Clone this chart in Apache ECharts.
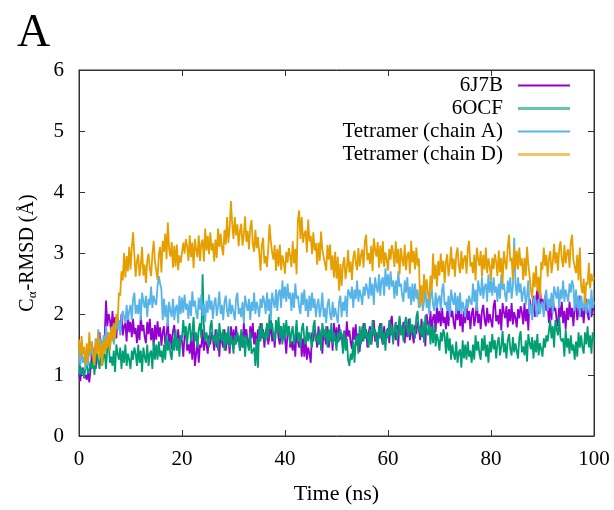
<!DOCTYPE html>
<html>
<head>
<meta charset="utf-8">
<script src="https://cdn.jsdelivr.net/npm/echarts@6/dist/echarts.min.js"></script>
<style>
  html, body { margin: 0; padding: 0; background: #fff; }
  #chart { width: 614px; height: 510px; }
</style>
</head>
<body>
<div id="chart"></div>
<script>
// sampling step of the trajectory (ns)
const step = 0.25

const seriesNames = ['6J7B', '6OCF', 'Tetramer (chain A)', 'Tetramer (chain D)']
const seriesColors = ['#9400d3', '#009e73', '#56b4e9', '#e69f00']

const xTicks = [0, 20, 40, 60, 80, 100]
const yTicks = [0, 1, 2, 3, 4, 5, 6]

// 6J7B, one row = 5 ns
const rmsd6J7B = [
  1.02, 0.90, 1.08, 1.12, 0.95, 1.0, 0.92, 1.05, 0.88, 1.10, 1.35, 1.25, 1.45, 1.10, 1.40, 1.40, 1.70, 1.35, 1.55, 1.45,
  1.65, 2.22, 1.80, 2.00, 1.90, 1.70, 2.05, 1.75, 1.95, 1.60, 1.95, 1.80, 1.70, 2.00, 1.65, 1.80, 1.85, 1.55, 2.00, 1.70,
  1.87, 1.62, 1.92, 1.67, 1.77, 1.52, 1.82, 1.57, 1.97, 1.72, 1.82, 1.62, 1.52, 1.87, 1.67, 1.92, 1.57, 1.77, 1.47, 1.82,
  1.58, 1.88, 1.63, 1.78, 1.48, 1.70, 1.80, 1.50, 1.65, 1.90, 1.52, 1.67, 1.42, 1.72, 1.82, 1.55, 1.45, 1.75, 1.50, 1.65,
  1.55, 1.30, 1.65, 1.75, 1.40, 1.50, 1.35, 1.60, 1.25, 1.70, 1.15, 1.35, 1.55, 1.20, 1.50, 1.45, 1.75, 1.40, 1.60, 1.50,
  1.35, 1.65, 1.50, 1.70, 1.60, 1.40, 1.75, 1.45, 1.65, 1.30, 1.70, 1.55, 1.45, 1.75, 1.40, 1.60, 1.65, 1.35, 1.80, 1.50,
  1.75, 1.50, 1.80, 1.55, 1.65, 1.40, 1.70, 1.45, 1.85, 1.60, 1.75, 1.55, 1.45, 1.80, 1.60, 1.85, 1.50, 1.70, 1.40, 1.75,
  1.55, 1.85, 1.60, 1.75, 1.45, 1.70, 1.80, 1.50, 1.65, 1.90, 1.55, 1.70, 1.45, 1.75, 1.85, 1.60, 1.50, 1.80, 1.55, 1.70,
  1.60, 1.35, 1.70, 1.80, 1.45, 1.55, 1.40, 1.65, 1.30, 1.75, 1.55, 1.45, 1.65, 1.30, 1.60, 1.30, 1.60, 1.25, 1.45, 1.35,
  1.20, 1.70, 1.55, 1.75, 1.65, 1.45, 1.80, 1.50, 1.70, 1.35, 1.75, 1.60, 1.50, 1.80, 1.45, 1.65, 1.70, 1.40, 1.85, 1.55,
  1.78, 1.53, 1.83, 1.58, 1.68, 1.43, 1.73, 1.48, 1.88, 1.63, 1.73, 1.53, 1.43, 1.78, 1.58, 1.83, 1.48, 1.68, 1.38, 1.73,
  1.55, 1.85, 1.60, 1.75, 1.45, 1.70, 1.80, 1.50, 1.65, 1.90, 1.55, 1.70, 1.45, 1.75, 1.85, 1.60, 1.50, 1.80, 1.55, 1.70,
  1.77, 1.52, 1.87, 1.97, 1.62, 1.72, 1.57, 1.82, 1.47, 1.92, 1.77, 1.67, 1.87, 1.52, 1.82, 1.62, 1.92, 1.57, 1.77, 1.67,
  1.52, 1.82, 1.67, 1.87, 1.77, 1.57, 1.92, 1.62, 1.82, 1.47, 2.00, 1.85, 1.75, 2.05, 1.70, 1.95, 2.00, 1.70, 2.15, 1.85,
  2.05, 1.80, 2.10, 1.85, 1.95, 1.75, 2.05, 1.80, 2.20, 1.95, 2.05, 1.85, 1.75, 2.10, 1.90, 2.15, 1.80, 2.00, 1.70, 2.05,
  1.85, 2.15, 1.90, 2.05, 1.75, 2.00, 2.10, 1.80, 1.95, 2.20, 1.85, 2.00, 1.75, 2.05, 2.15, 1.90, 1.80, 2.10, 1.85, 2.00,
  2.03, 1.78, 2.13, 2.23, 1.88, 1.98, 1.83, 2.08, 1.73, 2.18, 2.03, 1.93, 2.13, 1.78, 2.08, 1.88, 2.18, 1.83, 2.03, 1.93,
  1.78, 2.08, 1.93, 2.13, 2.03, 1.83, 2.18, 1.88, 2.08, 1.73, 2.25, 2.10, 2.00, 2.30, 1.95, 2.25, 2.40, 2.00, 2.45, 2.15,
  2.25, 2.00, 2.30, 2.05, 2.15, 1.85, 2.15, 1.90, 2.30, 2.05, 2.10, 1.90, 1.80, 2.15, 1.95, 2.20, 1.85, 2.05, 1.75, 2.10,
  1.90, 2.20, 1.95, 2.10, 1.80, 2.10, 2.20, 1.90, 2.05, 2.30, 1.95, 2.10, 1.85, 2.15, 2.25, 2.00, 1.90, 2.20, 1.95, 2.10,
  2.05
]

// 6OCF
const rmsd6OCF = [
  1.00, 1.15, 1.02, 1.10, 0.95, 1.12, 1.18, 1.02, 1.10, 1.22, 1.10, 1.25, 1.00, 1.30, 1.40, 1.20, 1.10, 1.40, 1.15, 1.30,
  1.35, 1.10, 1.45, 1.55, 1.20, 1.30, 1.15, 1.40, 1.05, 1.50, 1.35, 1.25, 1.45, 1.10, 1.40, 1.20, 1.50, 1.15, 1.35, 1.25,
  1.10, 1.40, 1.25, 1.45, 1.35, 1.15, 1.50, 1.20, 1.40, 1.05, 1.45, 1.30, 1.20, 1.50, 1.15, 1.35, 1.40, 1.10, 1.55, 1.25,
  1.50, 1.25, 1.55, 1.30, 1.40, 1.20, 1.50, 1.25, 1.65, 1.40, 1.55, 1.35, 1.25, 1.60, 1.40, 1.75, 1.40, 1.60, 1.30, 1.65,
  1.60, 1.90, 1.65, 1.80, 1.50, 1.75, 1.85, 1.55, 1.70, 1.95, 1.55, 1.70, 1.45, 1.75, 1.85, 1.60, 2.65, 1.80, 1.55, 1.70,
  1.70, 1.45, 1.80, 1.90, 1.55, 1.65, 1.50, 1.75, 1.40, 1.85, 1.65, 1.55, 1.75, 1.40, 1.70, 1.50, 1.80, 1.45, 1.65, 1.55,
  1.35, 1.65, 1.50, 1.70, 1.60, 1.40, 1.75, 1.45, 1.65, 1.30, 1.65, 1.50, 1.40, 1.70, 1.35, 1.40, 1.45, 1.15, 1.60, 1.12,
  1.80, 1.55, 1.85, 1.60, 1.70, 1.55, 1.85, 1.60, 2.00, 1.75, 1.85, 1.65, 1.55, 1.90, 1.70, 1.95, 1.60, 1.80, 1.50, 1.85,
  1.60, 1.90, 1.65, 1.80, 1.50, 1.70, 1.80, 1.50, 1.65, 1.90, 1.55, 1.70, 1.45, 1.75, 1.85, 1.60, 1.50, 1.80, 1.55, 1.70,
  1.70, 1.45, 1.80, 1.90, 1.55, 1.65, 1.50, 1.75, 1.40, 1.85, 1.70, 1.60, 1.80, 1.45, 1.75, 1.55, 1.85, 1.50, 1.70, 1.60,
  1.40, 1.70, 1.55, 1.75, 1.65, 1.35, 1.70, 1.40, 1.60, 1.25, 1.15, 1.35, 1.25, 1.55, 1.20, 1.60, 1.65, 1.35, 1.80, 1.50,
  1.80, 1.55, 1.85, 1.60, 1.70, 1.45, 1.75, 1.50, 1.90, 1.65, 1.75, 1.55, 1.45, 1.80, 1.60, 1.85, 1.50, 1.70, 1.40, 1.75,
  1.60, 1.90, 1.65, 1.80, 1.50, 1.77, 1.87, 1.57, 1.72, 1.97, 1.65, 1.80, 1.55, 1.85, 1.95, 1.73, 1.63, 1.93, 1.68, 1.83,
  1.85, 1.60, 1.95, 2.05, 1.70, 1.78, 1.63, 1.88, 1.53, 1.98, 1.75, 1.65, 1.85, 1.50, 1.80, 1.52, 1.82, 1.47, 1.67, 1.57,
  1.40, 1.70, 1.55, 1.75, 1.65, 1.35, 1.70, 1.40, 1.60, 1.25, 1.50, 1.35, 1.25, 1.55, 1.20, 1.37, 1.42, 1.12, 1.57, 1.27,
  1.50, 1.25, 1.55, 1.30, 1.40, 1.20, 1.50, 1.25, 1.65, 1.40, 1.55, 1.35, 1.25, 1.60, 1.40, 1.65, 1.30, 1.50, 1.20, 1.55,
  1.37, 1.67, 1.42, 1.57, 1.27, 1.52, 1.62, 1.32, 1.47, 1.72, 1.37, 1.52, 1.27, 1.57, 1.67, 1.42, 1.32, 1.62, 1.37, 1.52,
  1.52, 1.27, 1.62, 1.72, 1.37, 1.47, 1.32, 1.57, 1.22, 1.67, 1.52, 1.42, 1.62, 1.27, 1.57, 1.37, 1.67, 1.32, 1.52, 1.42,
  1.30, 1.60, 1.45, 1.65, 1.55, 1.55, 1.90, 1.60, 1.80, 1.45, 1.90, 1.75, 1.65, 1.95, 1.60, 1.55, 1.60, 1.30, 1.75, 1.45,
  1.60, 1.35, 1.65, 1.40, 1.50, 1.25, 1.55, 1.30, 1.70, 1.45, 1.65, 1.45, 1.35, 1.70, 1.50, 1.80, 1.45, 1.65, 1.35, 1.70,
  1.55
]

// Tetramer (chain A)
const rmsdChainA = [
  1.40, 1.15, 1.45, 1.20, 1.30, 1.10, 1.40, 1.15, 1.55, 1.30, 1.55, 1.35, 1.25, 1.60, 1.40, 1.75, 1.40, 1.60, 1.30, 1.65,
  1.50, 1.80, 1.55, 1.70, 1.40, 1.70, 1.80, 1.50, 1.65, 1.90, 1.75, 1.90, 1.65, 1.95, 2.05, 1.95, 1.85, 2.15, 1.90, 2.05,
  2.15, 1.90, 2.25, 2.35, 2.00, 2.15, 2.00, 2.25, 1.90, 2.35, 2.20, 2.10, 2.30, 1.95, 2.25, 2.15, 2.45, 2.10, 2.30, 2.20,
  2.15, 2.45, 2.62, 2.50, 2.40, 1.90, 2.25, 1.95, 2.15, 1.80, 2.20, 2.05, 1.95, 2.25, 1.90, 2.10, 2.15, 1.85, 2.30, 2.00,
  2.27, 2.02, 2.32, 2.07, 2.17, 1.92, 2.22, 1.97, 2.37, 2.12, 2.22, 2.02, 1.92, 2.27, 2.07, 2.32, 1.97, 2.17, 1.87, 2.22,
  2.02, 2.32, 2.07, 2.22, 1.92, 2.17, 2.27, 1.97, 2.12, 2.37, 2.00, 2.15, 1.90, 2.20, 2.30, 2.05, 1.95, 2.25, 2.00, 2.15,
  2.15, 1.90, 2.25, 2.35, 2.00, 2.10, 1.95, 2.20, 1.85, 2.30, 2.15, 2.05, 2.25, 1.90, 2.20, 2.05, 2.35, 2.00, 2.20, 2.10,
  1.95, 2.25, 2.10, 2.30, 2.20, 2.00, 2.35, 2.05, 2.25, 1.90, 2.35, 2.20, 2.10, 2.40, 2.05, 2.35, 2.40, 2.10, 2.55, 2.25,
  2.45, 2.20, 2.50, 2.25, 2.35, 2.05, 2.35, 2.10, 2.50, 2.25, 2.30, 2.10, 2.00, 2.35, 2.15, 2.40, 2.05, 2.25, 1.95, 2.30,
  2.05, 2.35, 2.10, 2.25, 1.95, 2.15, 2.25, 1.95, 2.10, 2.35, 1.95, 2.10, 1.85, 2.15, 2.25, 2.00, 1.90, 2.20, 1.95, 2.10,
  2.10, 1.85, 2.20, 2.30, 1.95, 2.20, 2.05, 2.30, 1.95, 2.40, 2.35, 2.25, 2.45, 2.10, 2.40, 2.25, 2.55, 2.20, 2.40, 2.30,
  2.15, 2.45, 2.30, 2.50, 2.40, 2.25, 2.60, 2.30, 2.50, 2.15, 2.60, 2.45, 2.35, 2.65, 2.30, 2.55, 2.60, 2.30, 2.75, 2.45,
  2.65, 2.40, 2.70, 2.45, 2.55, 2.25, 2.55, 2.30, 2.70, 2.45, 2.50, 2.30, 2.20, 2.55, 2.35, 2.60, 2.25, 2.45, 2.15, 2.50,
  2.20, 2.50, 2.25, 2.40, 2.10, 2.25, 2.35, 2.05, 2.20, 2.45, 2.10, 2.25, 2.00, 2.30, 2.40, 2.15, 2.05, 2.35, 2.10, 2.25,
  2.30, 2.05, 2.40, 2.50, 2.15, 2.20, 2.05, 2.30, 1.95, 2.40, 2.25, 2.15, 2.35, 2.00, 2.30, 2.05, 2.35, 2.00, 2.20, 2.10,
  1.95, 2.25, 2.10, 2.30, 2.20, 2.15, 2.50, 2.20, 2.40, 2.05, 2.55, 2.40, 2.30, 2.60, 2.25, 2.45, 2.50, 2.20, 2.65, 2.35,
  2.55, 2.30, 2.60, 2.35, 2.45, 2.20, 2.50, 2.25, 2.65, 2.40, 2.50, 2.30, 2.20, 2.55, 2.35, 2.60, 2.25, 2.45, 3.25, 2.50,
  2.30, 2.60, 2.35, 2.50, 2.20, 2.35, 2.45, 2.15, 2.30, 2.55, 2.00, 2.15, 1.90, 2.20, 2.30, 2.05, 1.95, 2.25, 2.00, 2.15,
  2.20, 1.95, 2.30, 2.40, 2.05, 2.25, 2.10, 2.35, 2.00, 2.45, 2.35, 2.25, 2.45, 2.10, 2.40, 2.25, 2.55, 2.20, 2.40, 2.30,
  2.20, 2.50, 2.35, 2.55, 2.45, 2.05, 2.40, 2.10, 2.30, 1.95, 2.30, 2.15, 2.05, 2.35, 2.00, 2.20, 2.25, 1.95, 2.40, 2.10,
  2.2
]

// Tetramer (chain D)
const rmsdChainD = [
  1.58, 1.28, 1.64, 1.34, 1.46, 1.16, 1.52, 1.22, 1.70, 1.40, 1.52, 1.28, 1.16, 1.58, 1.34, 1.69, 1.27, 1.51, 1.15, 1.57,
  1.35, 1.62, 1.45, 1.70, 1.40, 1.78, 1.55, 1.85, 1.60, 2.00, 1.85, 2.35, 2.30, 2.70, 2.55, 3.00, 2.60, 2.95, 2.70, 3.10,
  2.73, 3.09, 3.34, 2.97, 2.61, 2.86, 2.98, 2.62, 2.80, 3.10, 2.63, 2.81, 2.51, 2.87, 2.99, 2.74, 2.62, 2.98, 3.20, 2.86,
  2.86, 2.56, 2.98, 3.10, 2.68, 3.20, 3.02, 3.32, 2.90, 3.50, 3.06, 2.94, 3.18, 2.76, 3.12, 2.78, 3.14, 2.72, 2.96, 2.84,
  2.81, 3.17, 2.99, 3.23, 3.11, 2.87, 3.29, 2.93, 3.17, 2.75, 3.23, 3.05, 2.93, 3.29, 2.87, 3.16, 3.22, 2.86, 3.40, 3.04,
  3.28, 2.98, 3.34, 3.04, 3.16, 2.86, 3.22, 2.92, 3.40, 3.10, 3.32, 3.08, 2.96, 3.38, 3.14, 3.59, 3.17, 3.41, 3.85, 3.47,
  3.23, 3.59, 3.29, 3.47, 3.11, 3.36, 3.48, 3.12, 3.30, 3.60, 3.18, 3.36, 3.06, 3.42, 3.54, 3.14, 3.02, 3.38, 3.08, 3.26,
  3.01, 2.71, 3.13, 3.25, 2.83, 2.95, 2.77, 3.07, 3.47, 3.19, 3.01, 2.89, 3.13, 2.71, 3.07, 2.78, 3.14, 2.72, 2.96, 2.84,
  2.66, 3.02, 2.84, 3.08, 2.96, 2.77, 3.19, 2.83, 3.07, 2.65, 3.53, 3.70, 3.23, 3.59, 3.17, 3.31, 3.37, 3.01, 3.55, 3.19,
  3.28, 2.98, 3.34, 3.04, 3.16, 2.81, 3.17, 2.87, 3.35, 3.05, 3.07, 2.83, 2.71, 3.13, 2.89, 3.14, 2.72, 2.96, 2.60, 3.02,
  2.58, 2.94, 2.38, 2.82, 2.46, 2.81, 2.93, 2.57, 2.75, 3.05, 2.68, 2.86, 2.56, 2.92, 3.04, 2.84, 2.72, 3.08, 2.78, 2.96,
  3.06, 2.76, 3.18, 3.30, 2.88, 3.00, 2.82, 3.12, 2.70, 3.24, 3.06, 2.94, 3.18, 2.76, 3.12, 2.83, 3.19, 2.77, 3.01, 2.89,
  2.71, 3.07, 2.89, 3.13, 3.01, 2.77, 3.19, 2.83, 3.07, 2.65, 3.08, 2.90, 2.78, 3.14, 2.72, 2.96, 3.02, 2.66, 3.20, 2.84,
  3.03, 2.73, 3.09, 2.79, 2.91, 2.11, 2.47, 2.17, 2.65, 2.35, 2.57, 2.33, 2.21, 2.63, 2.39, 2.99, 2.57, 2.81, 2.45, 2.87,
  2.63, 2.99, 2.69, 2.87, 2.51, 2.86, 2.98, 2.62, 2.80, 3.10, 2.73, 2.91, 2.61, 2.97, 3.09, 2.79, 2.67, 3.03, 2.73, 2.91,
  2.96, 2.66, 3.08, 3.20, 2.78, 2.85, 2.67, 2.97, 2.55, 3.09, 2.91, 2.79, 3.03, 2.61, 2.97, 2.73, 3.09, 2.67, 2.91, 2.79,
  2.56, 2.92, 2.74, 2.98, 2.86, 2.62, 3.04, 2.68, 2.92, 2.50, 3.03, 2.85, 2.73, 3.09, 3.30, 2.86, 2.92, 2.56, 3.10, 2.74,
  3.03, 2.73, 3.09, 2.79, 2.91, 2.56, 2.92, 2.62, 3.10, 2.80, 2.62, 2.38, 2.26, 2.68, 2.44, 2.79, 2.37, 2.61, 2.25, 2.85,
  2.73, 3.09, 2.79, 2.97, 2.61, 2.91, 3.03, 2.67, 2.85, 3.15, 2.83, 3.01, 2.71, 3.07, 3.19, 2.89, 2.77, 3.13, 2.83, 3.01,
  3.06, 2.76, 3.18, 3.30, 2.88, 2.85, 2.67, 2.97, 2.55, 3.09, 2.46, 2.34, 2.58, 2.16, 2.52, 2.48, 2.84, 2.42, 2.66, 2.54,
  2.6
]

const seriesValues = [rmsd6J7B, rmsd6OCF, rmsdChainA, rmsdChainD]

const serif = 'Liberation Serif'
const axisColor = '#333'

const toPoints = (values) => values.map((v, i) => [i * step, v])

// gnuplot-style key: text right aligned, sample line on the right
const legendRows = seriesNames.map((name, i) => ({
  data: [name],
  orient: 'vertical',
  right: 39,
  top: 70 + i * 23,
  align: 'right',
  icon: 'rect',
  itemWidth: 52,
  itemHeight: i % 2 ? 3 : 2,
  itemStyle: { opacity: i % 2 ? 0.6 : 1 },
  selectedMode: false,
  textStyle: { fontFamily: serif, fontSize: 21, color: '#000', padding: [0, 10, 0, 0] }
}))

// mirrored box axes, ticks pointing into the plot
const boxLine = { show: true, onZero: false, lineStyle: { color: axisColor } }
const tickStyle = { show: true, inside: true, length: 6, lineStyle: { color: axisColor } }

const option = {
  animation: false,
  backgroundColor: '#fff',
  title: {
    text: 'A',
    left: 12,
    top: 6,
    textStyle: { fontFamily: serif, fontSize: 46, fontWeight: 'normal', color: '#000' }
  },
  legend: legendRows,
  grid: {
    left: 79,
    right: 20,
    top: 70,
    bottom: 67,
    show: true,
    borderColor: axisColor,
    borderWidth: 1
  },
  xAxis: [
    {
      type: 'value',
      min: 0,
      max: 100,
      interval: 20,
      name: 'Time (ns)',
      nameLocation: 'middle',
      nameGap: 47,
      nameTextStyle: { fontFamily: serif, fontSize: 22, color: '#000' },
      axisLine: boxLine,
      axisTick: tickStyle,
      axisLabel: {
        margin: 13,
        fontFamily: serif,
        fontSize: 21,
        color: '#000',
        formatter: (v) => (xTicks.includes(v) ? String(v) : '')
      },
      splitLine: { show: false }
    },
    {
      type: 'value',
      position: 'top',
      min: 0,
      max: 100,
      interval: 20,
      axisLine: boxLine,
      axisTick: tickStyle,
      axisLabel: { show: false },
      splitLine: { show: false }
    }
  ],
  yAxis: [
    {
      type: 'value',
      position: 'left',
      min: 0,
      max: 6,
      interval: 1,
      name: '{t|C}{s|α}{t|-RMSD (Å)}',
      nameLocation: 'middle',
      nameGap: 40,
      nameRotate: 90,
      nameTextStyle: {
        rich: {
          t: { fontFamily: serif, fontSize: 20, color: '#000' },
          s: { fontFamily: serif, fontSize: 13, color: '#000', verticalAlign: 'bottom', padding: [9, 1, 0, 0] }
        }
      },
      axisLine: boxLine,
      axisTick: tickStyle,
      axisLabel: {
        margin: 15,
        fontFamily: serif,
        fontSize: 21,
        color: '#000',
        formatter: (v) => (yTicks.includes(v) ? String(v) : '')
      },
      splitLine: { show: false }
    },
    {
      type: 'value',
      position: 'right',
      min: 0,
      max: 6,
      interval: 1,
      axisLine: boxLine,
      axisTick: tickStyle,
      axisLabel: { show: false },
      splitLine: { show: false }
    }
  ],
  series: seriesNames.map((name, i) => ({
    name: name,
    type: 'line',
    data: toPoints(seriesValues[i]),
    showSymbol: false,
    symbol: 'none',
    color: seriesColors[i],
    lineStyle: { width: 1.8, color: seriesColors[i] },
    z: 2 + i
  }))
}

const chart = echarts.init(document.getElementById('chart'))
chart.setOption(option)
</script>
</body>
</html>
